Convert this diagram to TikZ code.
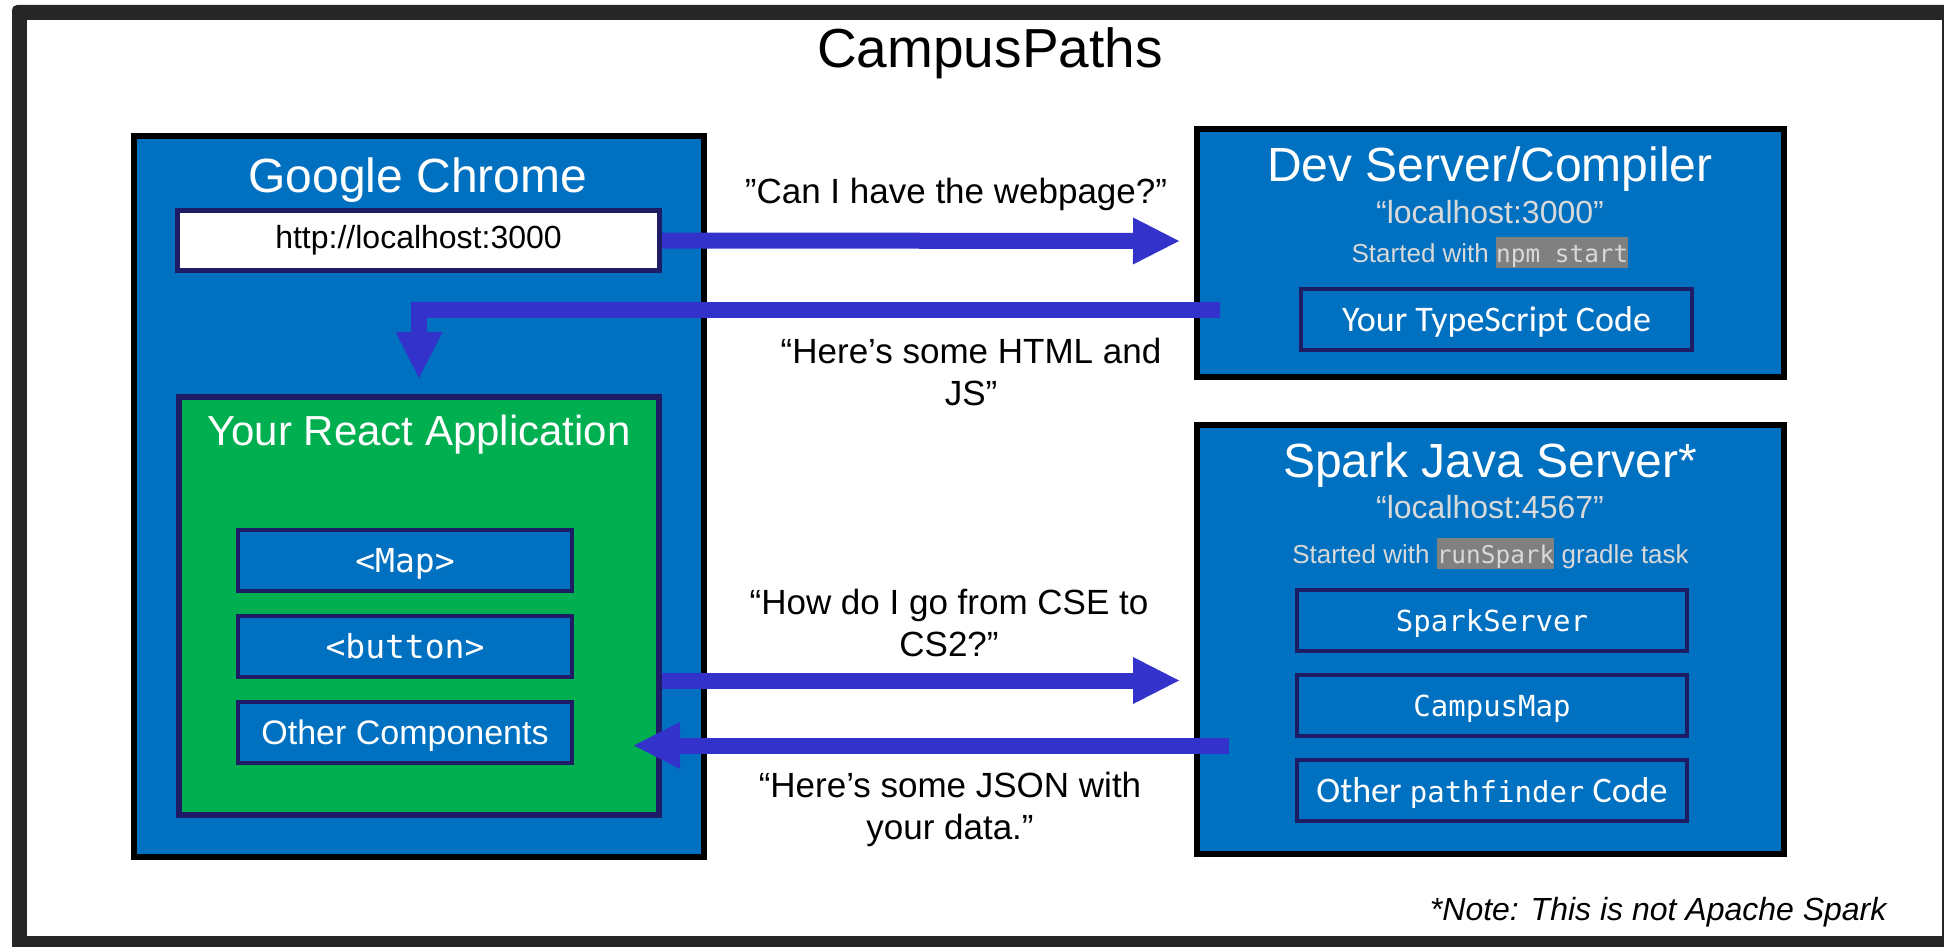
\documentclass[tikz,border=0pt]{standalone}
\usepackage{fontspec}
\setmainfont{Liberation Sans}
\newfontfamily\codefont{DejaVu Sans Mono}
\newfontfamily\calibrifont{Carlito}
\usetikzlibrary{
    arrows.meta,
    positioning,
    calc
}

\definecolor{boxblue}{HTML}{0070C0}
\definecolor{appgreen}{HTML}{00B050}
\definecolor{edgenavy}{HTML}{1E1C64}
\definecolor{flowblue}{HTML}{3333CC}
\definecolor{framegray}{HTML}{262626}
\definecolor{softgray}{HTML}{D9D9D9}
\definecolor{hlgray}{HTML}{808080}

\newcommand{\hlcode}[1]{{\setlength{\fboxsep}{0pt}\colorbox{hlgray}{\rule[-6pt]{0pt}{31pt}\codefont\fontsize{24.4}{29}\selectfont #1}}}

\begin{document}
\begin{tikzpicture}[
    x=1pt, y=-1pt,
    panel/.style={draw=black,line width=6pt,fill=boxblue,inner sep=0pt},
    part/.style={draw=edgenavy,line width=4pt,fill=boxblue,inner sep=0pt,text=white,
                 minimum width=334pt,minimum height=61pt,text height=24pt,text depth=0pt},
    panel title/.style={anchor=base,text=white,font=\fontsize{48}{56}\selectfont},
    host/.style={anchor=base,text=softgray,font=\fontsize{32}{38}\selectfont},
    started/.style={anchor=base,text=softgray,font=\fontsize{26}{31}\selectfont},
    msg/.style={align=center,font=\fontsize{35}{42}\selectfont},
    flow/.style={draw=flowblue,line width=16pt,line join=miter,-{Triangle[length=46pt,width=47pt,line width=0pt]}}
]
    \useasboundingbox (0,0) rectangle (1944,947);
    \clip (0,0) rectangle (1944,947);

    % Slide frame
    \fill[framegray,rounded corners=5pt] (12,5) rectangle (1970,970);
    \fill[white] (27,20) rectangle (1942,936);

    \node[anchor=base,font=\fontsize{55}{65}\selectfont] (title) at (990,68) {CampusPaths};

    % Browser side: Chrome with the React app inside.
    \node[panel,minimum width=570pt,minimum height=721pt] (chrome) at (419,496.5) {};
    \node[panel title] (chrome title) at (418,192) {Google Chrome};
    \node[draw=edgenavy,line width=5pt,fill=white,minimum width=482pt,minimum height=60pt,
          font=\fontsize{32}{38}\selectfont] (url) at (418.5,240.5) {http://localhost:3000};

    \node[draw=edgenavy,line width=6pt,fill=appgreen,minimum width=480pt,minimum height=418pt] (react) at (419,606) {};
    \node[anchor=base,text=white,font=\fontsize{42}{50}\selectfont] (react title) at (419,445) {Your React Application};
    \node[part,font=\codefont\fontsize{33}{40}\selectfont] (map) at (405,560.5) {<Map>};
    \node[part,font=\codefont\fontsize{33}{40}\selectfont,below=21pt of map] (button) {<button>};
    \node[part,font=\fontsize{34}{41}\selectfont,below=21pt of button] (other comp) {Other Components};

    % Dev server
    \node[panel,minimum width=587pt,minimum height=248pt] (dev) at (1490.5,253) {};
    \node[panel title] (dev title) at (1490,182) {Dev Server/Compiler};
    \node[host] (dev host) at (1490,223) {“localhost:3000”};
    \node[started] (dev start) at (1490,262) {Started with \hlcode{npm start}};
    \node[part,minimum width=391pt,text height=23pt,font=\calibrifont\fontsize{36}{43}\selectfont] (ts code) at (1496.5,319.5) {Your TypeScript Code};

    % Spark server
    \node[panel,minimum width=587pt,minimum height=429pt] (spark) at (1490.5,639.5) {};
    \node[panel title] (spark title) at (1490,477) {Spark Java Server*};
    \node[host] (spark host) at (1490,518) {“localhost:4567”};
    \node[started] (spark start) at (1490.5,563) {Started with \hlcode{runSpark} gradle task};
    \node[part,minimum width=390pt,text height=21pt,font=\codefont\fontsize{29}{35}\selectfont] (spark server) at (1492,620.5) {SparkServer};
    \node[part,minimum width=390pt,text height=21pt,font=\codefont\fontsize{29}{35}\selectfont,below=20pt of spark server] (campus map) {CampusMap};
    \node[part,minimum width=390pt,text height=23pt,font=\calibrifont\fontsize{36}{43}\selectfont,below=20pt of campus map] (other code)
        {Other {\codefont\fontsize{29}{35}\selectfont pathfinder} Code};

    % Messages
    \node[msg,anchor=base] (ask page) at (956,203) {”Can I have the webpage?”};
    \node[msg] (html msg) at (971,372) {“Here’s some HTML and\\JS”};
    \node[msg] (route msg) at (949,623) {“How do I go from CSE to\\CS2?”};
    \node[msg] (json msg) at (950,809) {“Here’s some JSON with\\your data.”};

    \node[anchor=base east,font=\itshape\fontsize{32}{38}\selectfont] (note) at (1890,920) {*Note: This is not Apache Spark};

    % Requests and responses
    \coordinate (page tip) at (1179,241);
    \coordinate (html tail) at (1220,309.5);
    \coordinate (route tip) at (1179,680.5);
    \coordinate (json tail) at (1229,745.5);
    \coordinate (json tip) at (634,745.5);

    \draw[flow] (url.east) -- (page tip);
    \draw[flow] (html tail) -| ([yshift=16pt]react.north);
    \draw[flow] (react.east |- route tip) -- (route tip);
    \draw[flow] (json tail) -- (json tip);
\end{tikzpicture}
\end{document}
